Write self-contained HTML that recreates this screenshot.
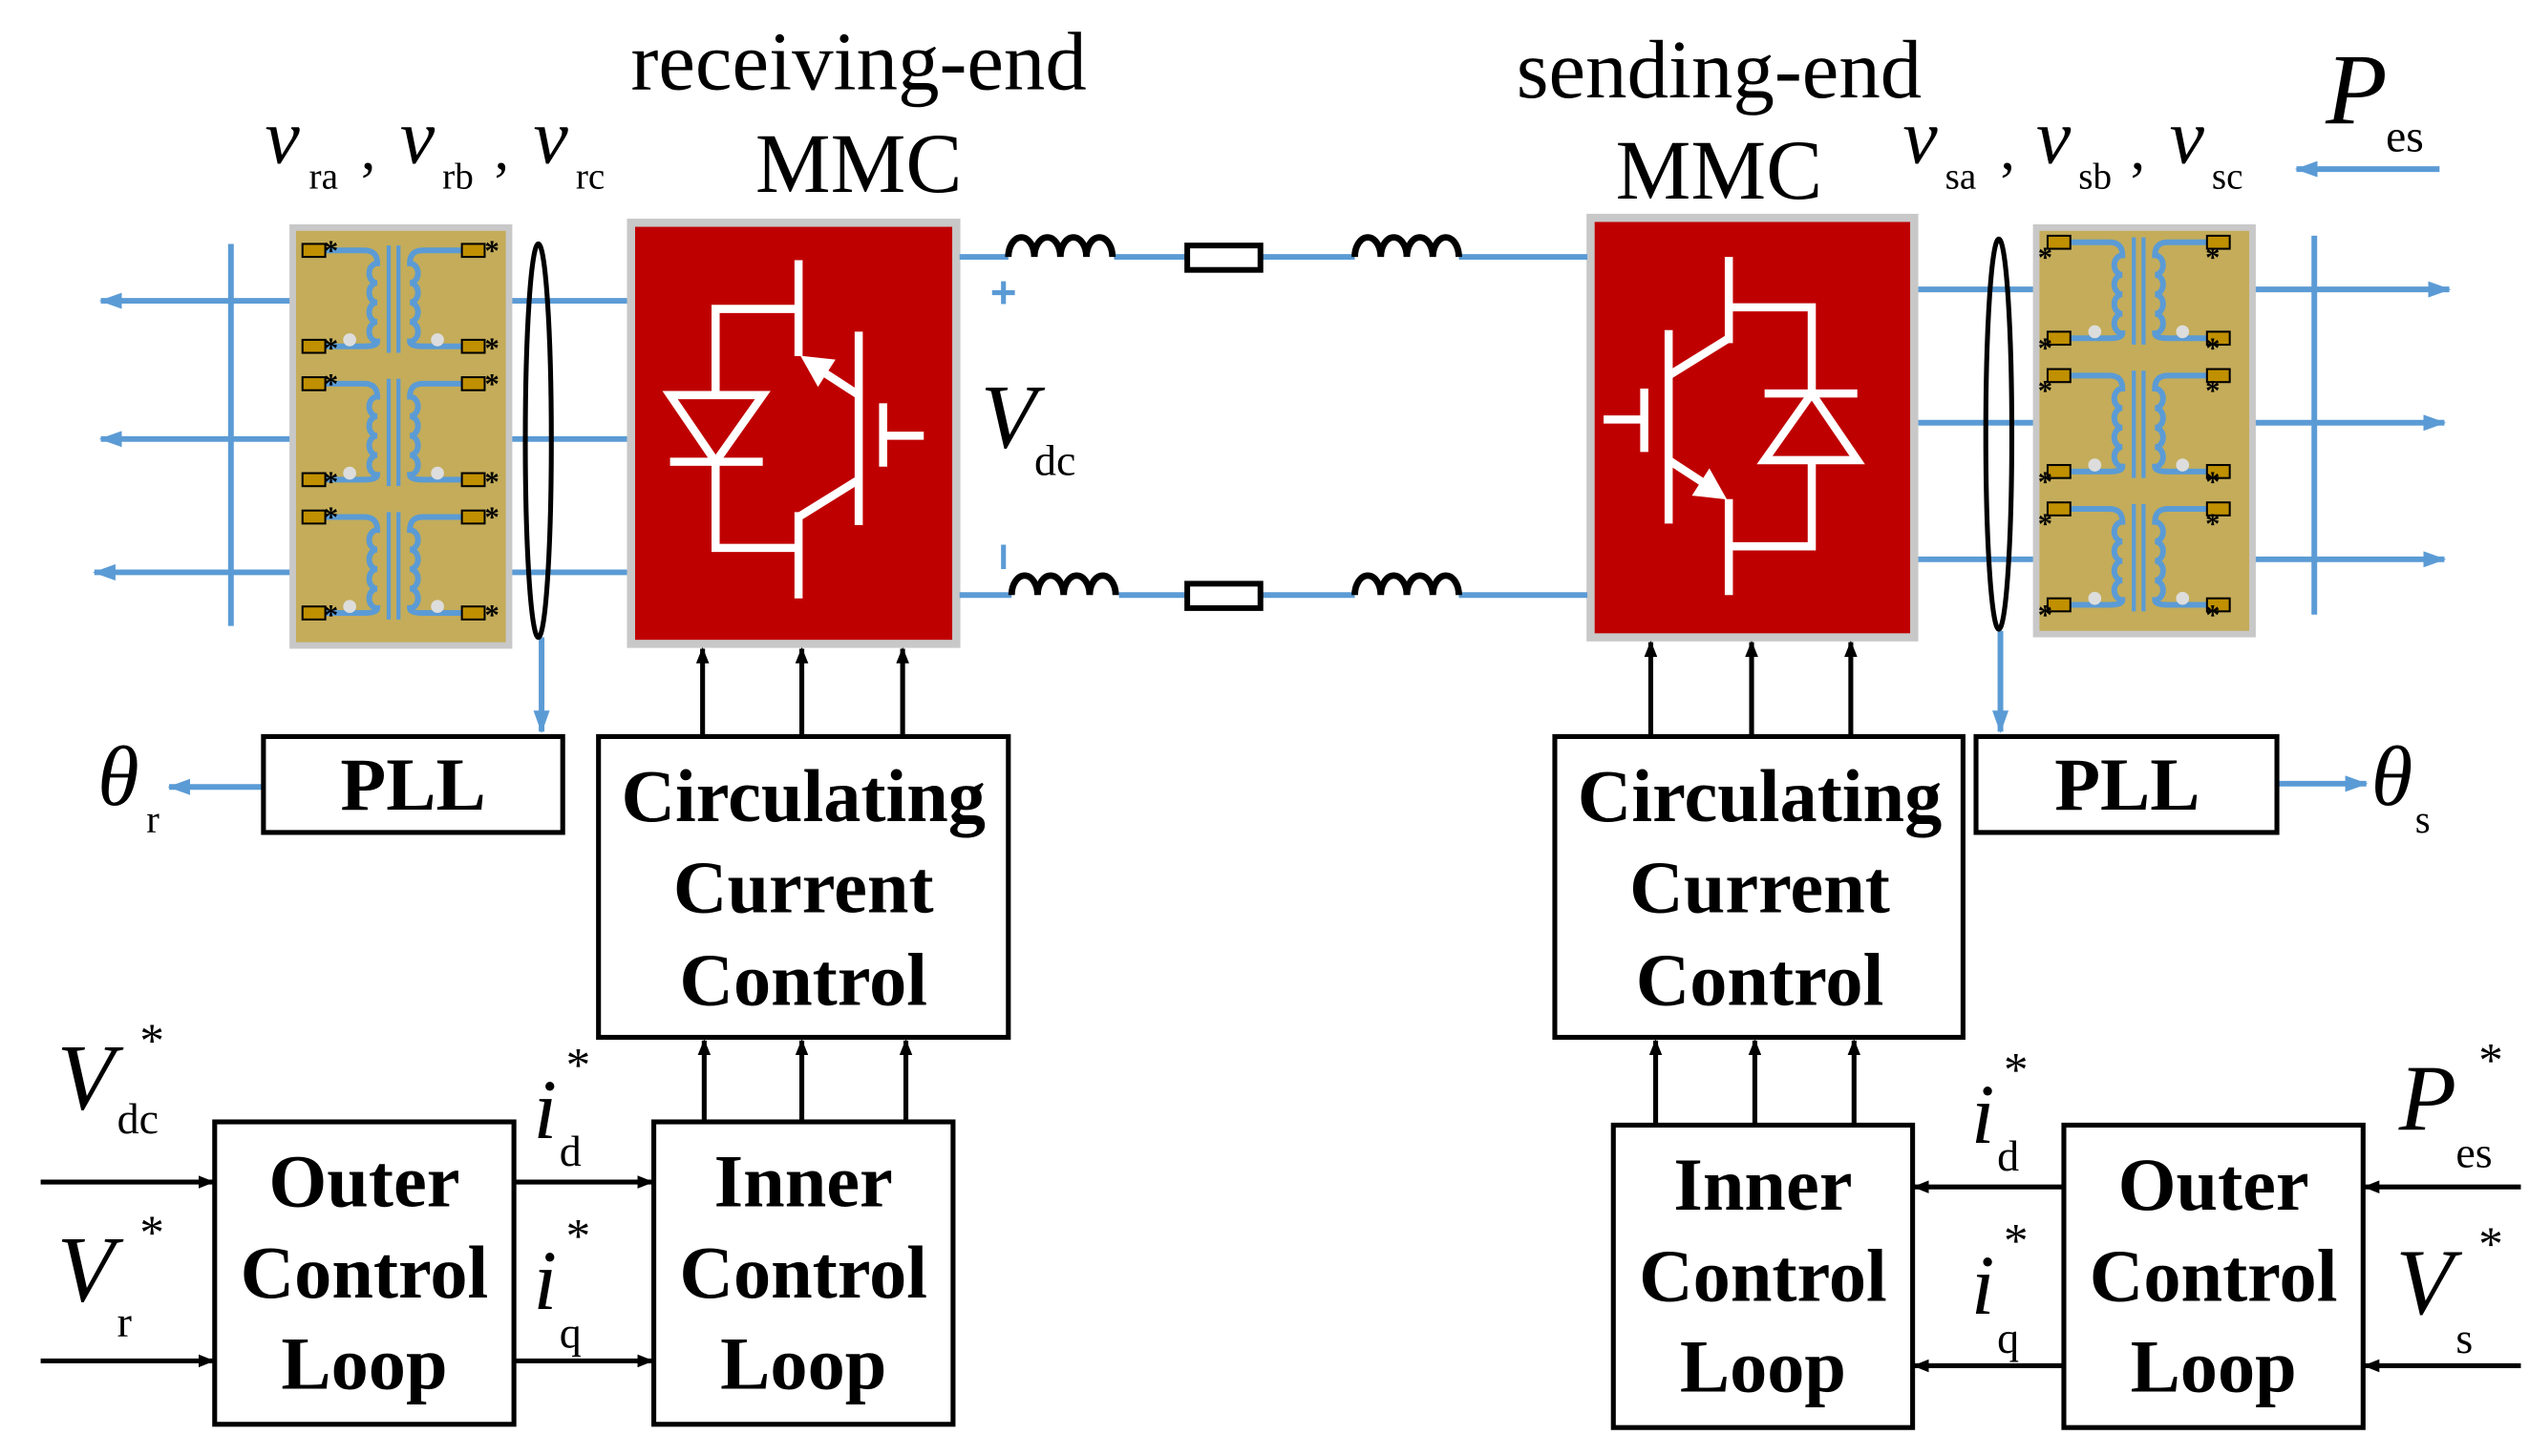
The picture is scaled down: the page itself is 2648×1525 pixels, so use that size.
<!DOCTYPE html>
<html><head><meta charset="utf-8"><style>
html,body{margin:0;padding:0;background:#fff;}
svg{display:block;}
text{font-family:"Liberation Serif",serif;}
.b{font-weight:bold;font-size:46px;text-anchor:middle;}
.it{font-style:italic;}
</style></head><body>
<svg width="2648" height="1525" viewBox="0 0 1555 895.5" preserveAspectRatio="none" xmlns="http://www.w3.org/2000/svg">
<defs>
<marker id="ab" markerWidth="10" markerHeight="8" refX="9" refY="4" orient="auto" markerUnits="userSpaceOnUse"><path d="M0,0 L10,4 L0,8 z" fill="#000"/></marker>
<marker id="abl" markerWidth="14" markerHeight="10" refX="13" refY="5" orient="auto" markerUnits="userSpaceOnUse"><path d="M0,0 L14,5 L0,10 z" fill="#5b9bd5"/></marker>
<g id="unit">
  <path d="M20,7 H44 Q52,7 52,15 a5,6 0 0,0 0,12 a5,6 0 0,0 0,12 a5,6 0 0,0 0,12 a5,6 0 0,0 0,12 Q52,66 44,66 H20" fill="none" stroke="#5b9bd5" stroke-width="3.5"/>
  <path d="M104,7 H80 Q72,7 72,15 a5,6 0 0,1 0,12 a5,6 0 0,1 0,12 a5,6 0 0,1 0,12 a5,6 0 0,1 0,12 Q72,66 80,66 H104" fill="none" stroke="#5b9bd5" stroke-width="3.5"/>
  <line x1="59" y1="4" x2="59" y2="70" stroke="#5b9bd5" stroke-width="2.5"/>
  <line x1="65" y1="4" x2="65" y2="70" stroke="#5b9bd5" stroke-width="2.5"/>
  <circle cx="35" cy="62" r="4" fill="#ddd"/><circle cx="89" cy="62" r="4" fill="#ddd"/>
  <rect x="6" y="3" width="14" height="8" fill="#c09000" stroke="#000" stroke-width="1.2"/>
  <rect x="6" y="62" width="14" height="8" fill="#c09000" stroke="#000" stroke-width="1.2"/>
  <rect x="104" y="3" width="14" height="8" fill="#c09000" stroke="#000" stroke-width="1.2"/>
  <rect x="104" y="62" width="14" height="8" fill="#c09000" stroke="#000" stroke-width="1.2"/>
</g>
<g id="igbt" stroke="#fff" stroke-width="5" fill="none">
  <polyline points="491,160 491,219"/>
  <polyline points="491,190 440,190 440,243"/>
  <path d="M412,243 L469,243 L440,284 Z"/>
  <line x1="412" y1="284" x2="469" y2="284"/>
  <polyline points="440,284 440,337 491,337"/>
  <line x1="491" y1="315" x2="491" y2="368"/>
  <line x1="528" y1="204" x2="528" y2="323"/>
  <line x1="528" y1="243" x2="505" y2="228"/>
  <path d="M494,220 L512,222 L503,236 Z" fill="#fff" stroke-width="2"/>
  <polyline points="528,295 491,318"/>
  <line x1="543" y1="248" x2="543" y2="287"/>
  <line x1="543" y1="268" x2="568" y2="268"/>
</g>
</defs>

<text x="528" y="55" font-size="51" text-anchor="middle">receiving-end</text>
<text x="528" y="118" font-size="52" text-anchor="middle">MMC</text>
<text x="1057" y="60" font-size="51" text-anchor="middle">sending-end</text>
<text x="1057" y="122" font-size="52" text-anchor="middle">MMC</text>

<text x="163" y="100" font-size="48" class="it">v</text><text x="190" y="116" font-size="23">ra</text><text x="222" y="104" font-size="36">,</text>
<text x="246" y="100" font-size="48" class="it">v</text><text x="272" y="116" font-size="23">rb</text><text x="304" y="104" font-size="36">,</text>
<text x="328" y="100" font-size="48" class="it">v</text><text x="354" y="116" font-size="23">rc</text>
<text x="1170" y="100" font-size="48" class="it">v</text><text x="1196" y="116" font-size="23">sa</text><text x="1230" y="104" font-size="36">,</text>
<text x="1252" y="100" font-size="48" class="it">v</text><text x="1278" y="116" font-size="23">sb</text><text x="1310" y="104" font-size="36">,</text>
<text x="1334" y="100" font-size="48" class="it">v</text><text x="1360" y="116" font-size="23">sc</text>
<text x="1430" y="76" font-size="62" class="it">P</text><text x="1467" y="93" font-size="28">es</text>
<line x1="1500" y1="104" x2="1412" y2="104" stroke="#5b9bd5" stroke-width="3.5" marker-end="url(#abl)"/>

<g stroke="#5b9bd5" stroke-width="3.5" fill="none">
<line x1="388" y1="185" x2="62" y2="185" marker-end="url(#abl)"/>
<line x1="388" y1="270" x2="62" y2="270" marker-end="url(#abl)"/>
<line x1="388" y1="352" x2="58" y2="352" marker-end="url(#abl)"/>
<line x1="142" y1="150" x2="142" y2="385"/>
<line x1="333" y1="392" x2="333" y2="450" marker-end="url(#abl)"/>
<line x1="162" y1="484" x2="104" y2="484" marker-end="url(#abl)"/>
<line x1="1177" y1="178" x2="1506" y2="178" marker-end="url(#abl)"/>
<line x1="1177" y1="260" x2="1503" y2="260" marker-end="url(#abl)"/>
<line x1="1177" y1="344" x2="1503" y2="344" marker-end="url(#abl)"/>
<line x1="1423" y1="145" x2="1423" y2="378"/>
<line x1="1230" y1="388" x2="1230" y2="450" marker-end="url(#abl)"/>
<line x1="1400" y1="482" x2="1455" y2="482" marker-end="url(#abl)"/>
</g>

<rect x="180" y="140" width="133" height="257" fill="#c4ac5a" stroke="#c8c8c8" stroke-width="4"/>
<use href="#unit" x="180" y="147"/><use href="#unit" x="180" y="229"/><use href="#unit" x="180" y="311"/>
<g font-size="18" font-weight="bold"><text x="199" y="160">*</text><text x="298" y="160">*</text><text x="199" y="220">*</text><text x="298" y="220">*</text>
<text x="199" y="242">*</text><text x="298" y="242">*</text><text x="199" y="302">*</text><text x="298" y="302">*</text>
<text x="199" y="324">*</text><text x="298" y="324">*</text><text x="199" y="384">*</text><text x="298" y="384">*</text></g>
<rect x="1252" y="140" width="133" height="250" fill="#c4ac5a" stroke="#c8c8c8" stroke-width="4"/>
<use href="#unit" x="1253" y="142"/><use href="#unit" x="1253" y="224"/><use href="#unit" x="1253" y="306"/>
<g font-size="18" font-weight="bold"><text x="1253" y="164">*</text><text x="1356" y="164">*</text><text x="1253" y="220">*</text><text x="1356" y="220">*</text>
<text x="1253" y="246">*</text><text x="1356" y="246">*</text><text x="1253" y="302">*</text><text x="1356" y="302">*</text>
<text x="1253" y="328">*</text><text x="1356" y="328">*</text><text x="1253" y="384">*</text><text x="1356" y="384">*</text></g>
<ellipse cx="331" cy="271" rx="8" ry="121" fill="none" stroke="#000" stroke-width="3"/>
<ellipse cx="1229" cy="267" rx="8" ry="120" fill="none" stroke="#000" stroke-width="3"/>

<rect x="388" y="137" width="200" height="259" fill="#bf0000" stroke="#c8c8c8" stroke-width="5"/>
<use href="#igbt"/>
<rect x="978" y="134" width="199" height="258" fill="#bf0000" stroke="#c8c8c8" stroke-width="5"/>
<use href="#igbt" transform="translate(1554,526) rotate(180)"/>

<g stroke="#5b9bd5" stroke-width="3.5">
<line x1="590" y1="158" x2="620" y2="158"/><line x1="685" y1="158" x2="730" y2="158"/><line x1="775" y1="158" x2="833" y2="158"/><line x1="897" y1="158" x2="976" y2="158"/>
<line x1="590" y1="366" x2="622" y2="366"/><line x1="688" y1="366" x2="730" y2="366"/><line x1="775" y1="366" x2="833" y2="366"/><line x1="897" y1="366" x2="976" y2="366"/>
<line x1="610" y1="180" x2="624" y2="180" stroke-width="3"/><line x1="617" y1="173" x2="617" y2="187" stroke-width="3"/>
<line x1="617" y1="335" x2="617" y2="350" stroke-width="3"/>
</g>
<g stroke="#000" stroke-width="4" fill="none">
<path d="M620,158 a8,12 0 0,1 16,0 a8,12 0 0,1 16,0 a8,12 0 0,1 16,0 a8,12 0 0,1 16,0"/>
<path d="M833,158 a8,12 0 0,1 16,0 a8,12 0 0,1 16,0 a8,12 0 0,1 16,0 a8,12 0 0,1 16,0"/>
<path d="M622,366 a8,12 0 0,1 16,0 a8,12 0 0,1 16,0 a8,12 0 0,1 16,0 a8,12 0 0,1 16,0"/>
<path d="M833,366 a8,12 0 0,1 16,0 a8,12 0 0,1 16,0 a8,12 0 0,1 16,0 a8,12 0 0,1 16,0"/>
<rect x="730" y="151" width="45" height="15" fill="#fff" stroke-width="3.5"/>
<rect x="730" y="359" width="45" height="15" fill="#fff" stroke-width="3.5"/>
</g>
<text x="603" y="275" font-size="56" class="it">V</text><text x="636" y="292" font-size="27">dc</text>

<g fill="#fff" stroke="#000" stroke-width="3">
<rect x="162" y="453" width="184" height="59"/>
<rect x="1215" y="453" width="185" height="59"/>
<rect x="368" y="453" width="252" height="185"/>
<rect x="956" y="453" width="251" height="185"/>
<rect x="402" y="690" width="184" height="186"/>
<rect x="132" y="690" width="184" height="186"/>
<rect x="992" y="692" width="184" height="186"/>
<rect x="1269" y="692" width="184" height="186"/>
</g>
<text x="254" y="498" class="b">PLL</text>
<text x="1308" y="498" class="b">PLL</text>
<text x="494" y="505" class="b">Circulating</text><text x="494" y="561" class="b">Current</text><text x="494" y="618" class="b">Control</text>
<text x="1082" y="505" class="b">Circulating</text><text x="1082" y="561" class="b">Current</text><text x="1082" y="618" class="b">Control</text>
<text x="494" y="742" class="b">Inner</text><text x="494" y="798" class="b">Control</text><text x="494" y="854" class="b">Loop</text>
<text x="224" y="742" class="b">Outer</text><text x="224" y="798" class="b">Control</text><text x="224" y="854" class="b">Loop</text>
<text x="1084" y="744" class="b">Inner</text><text x="1084" y="800" class="b">Control</text><text x="1084" y="856" class="b">Loop</text>
<text x="1361" y="744" class="b">Outer</text><text x="1361" y="800" class="b">Control</text><text x="1361" y="856" class="b">Loop</text>

<text x="60" y="495" font-size="52" class="it">θ</text><text x="90" y="512" font-size="24">r</text>
<text x="1458" y="495" font-size="52" class="it">θ</text><text x="1485" y="512" font-size="24">s</text>

<g stroke="#000" stroke-width="3" marker-end="url(#ab)">
<line x1="432" y1="453" x2="432" y2="399"/><line x1="493" y1="453" x2="493" y2="399"/><line x1="555" y1="453" x2="555" y2="399"/>
<line x1="1015" y1="453" x2="1015" y2="395"/><line x1="1077" y1="453" x2="1077" y2="395"/><line x1="1138" y1="453" x2="1138" y2="395"/>
<line x1="433" y1="690" x2="433" y2="640"/><line x1="493" y1="690" x2="493" y2="640"/><line x1="557" y1="690" x2="557" y2="640"/>
<line x1="1018" y1="692" x2="1018" y2="640"/><line x1="1079" y1="692" x2="1079" y2="640"/><line x1="1140" y1="692" x2="1140" y2="640"/>
<line x1="316" y1="727" x2="401" y2="727"/><line x1="316" y1="837" x2="401" y2="837"/>
<line x1="25" y1="727" x2="131" y2="727"/><line x1="25" y1="837" x2="131" y2="837"/>
<line x1="1269" y1="730" x2="1177" y2="730"/><line x1="1269" y1="840" x2="1177" y2="840"/>
<line x1="1550" y1="730" x2="1454" y2="730"/><line x1="1550" y1="840" x2="1454" y2="840"/>
</g>

<text x="35" y="682" font-size="58" class="it">V</text><text x="72" y="697" font-size="27">dc</text><text x="86" y="650" font-size="30">*</text>
<text x="35" y="800" font-size="58" class="it">V</text><text x="72" y="822" font-size="27">r</text><text x="86" y="768" font-size="30">*</text>
<text x="328" y="700" font-size="52" class="it">i</text><text x="344" y="717" font-size="27">d</text><text x="348" y="665" font-size="30">*</text>
<text x="328" y="805" font-size="52" class="it">i</text><text x="344" y="829" font-size="27">q</text><text x="348" y="770" font-size="30">*</text>
<text x="1212" y="703" font-size="52" class="it">i</text><text x="1228" y="720" font-size="27">d</text><text x="1232" y="668" font-size="30">*</text>
<text x="1212" y="808" font-size="52" class="it">i</text><text x="1228" y="832" font-size="27">q</text><text x="1232" y="773" font-size="30">*</text>
<text x="1475" y="695" font-size="58" class="it">P</text><text x="1510" y="718" font-size="27">es</text><text x="1524" y="662" font-size="30">*</text>
<text x="1473" y="808" font-size="58" class="it">V</text><text x="1510" y="832" font-size="27">s</text><text x="1524" y="775" font-size="30">*</text>
</svg>
</body></html>
